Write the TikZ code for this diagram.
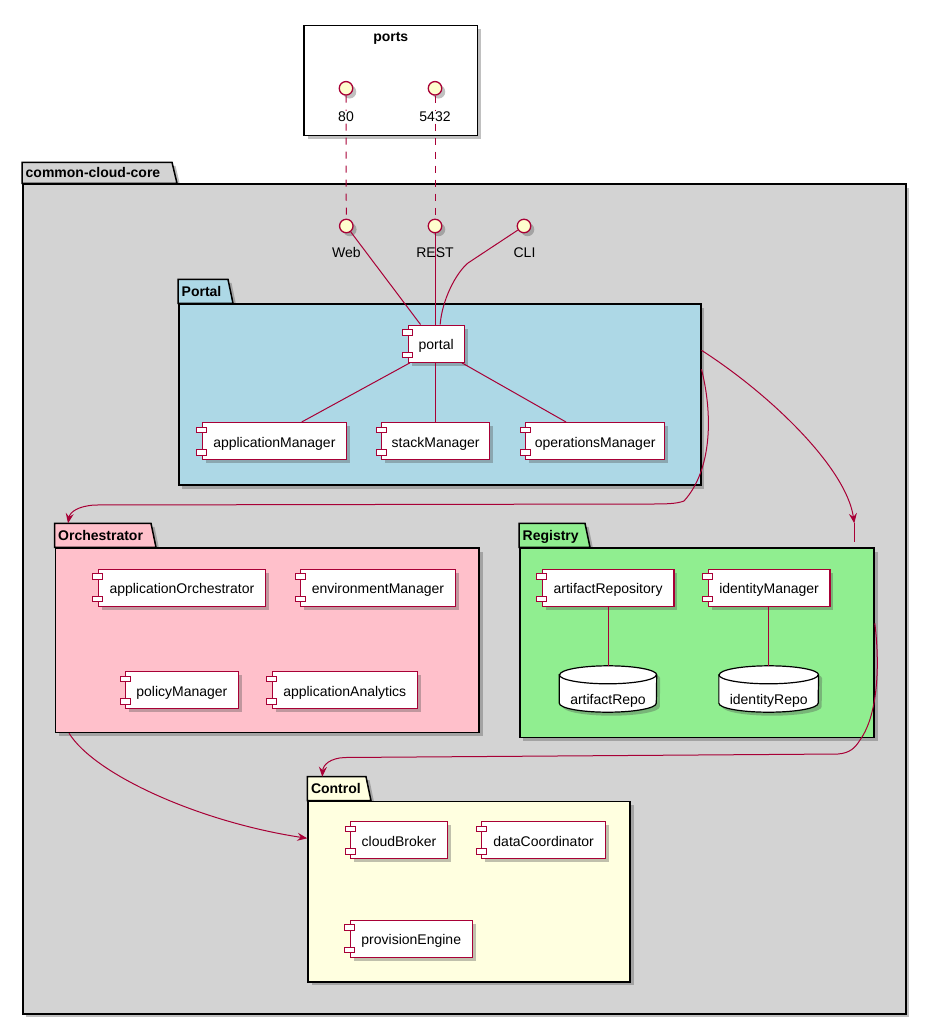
\documentclass[tikz,border=0pt]{standalone}
\usepackage{fontspec}
\setmainfont{Liberation Sans}
\usetikzlibrary{shadows,calc,arrows.meta}
\definecolor{crim}{HTML}{A80036}
\definecolor{ifill}{HTML}{FEFECE}
\definecolor{ccgray}{HTML}{D3D3D3}
\definecolor{pblue}{HTML}{ADD8E6}
\definecolor{ppink}{HTML}{FFC0CB}
\definecolor{pgreen}{HTML}{90EE90}
\definecolor{pyellow}{HTML}{FFFFE0}
\newcommand\umlpkg[9]{%
  \path[pkgtab,fill=#8] (#2,#3) -- ++(0,-#6) -- ++(#7,0) -- ++(5,#6) -- cycle;
  \node[pkgbody,fill=#8,minimum width=#4pt,minimum height=#5pt] (#1) at (#2,#3) {};
  \node[pkglabel] (#1lbl) at ($(#1.north west)+(3.5,-#6/2)$) {#9};
}
\newcommand\umldb[2]{%
  \path[dbline,fill=white,shad] ($(#1.north west)+(0,9)$) -- ($(#1.south west)+(0,-9)$)
     arc[start angle=180,end angle=360,x radius=#2,y radius=9pt]
     -- ($(#1.north east)+(0,9)$)
     arc[start angle=0,end angle=180,x radius=#2,y radius=9pt] -- cycle;
  \draw[dbline] ($(#1.north west)+(0,9)$) arc[start angle=180,end angle=360,x radius=#2,y radius=9pt];
}
\begin{document}
\begin{tikzpicture}[x=1pt,y=-1pt,
  font=\fontsize{14}{16.8}\selectfont,
  shad/.style={drop shadow={shadow xshift=3.5pt,shadow yshift=-3.5pt,fill=black!70,opacity=0.35}},
  pkgbody/.style={draw=black,line width=1.5pt,inner sep=0pt,anchor=north west,shad},
  pkgtab/.style={draw=black,line width=1.5pt,shad},
  pkglabel/.style={font=\fontsize{14}{16.8}\selectfont\bfseries,anchor=west,inner sep=0pt,text height=10pt,text depth=0pt},
  comp/.style={draw=crim,fill=white,line width=1.3pt,minimum height=37pt,inner sep=0pt,anchor=north west,text height=13pt,text depth=1pt,shad},
  compport/.style={draw=crim,fill=white,line width=0.9pt},
  iface/.style={circle,draw=crim,fill=ifill,line width=1.3pt,minimum size=13.5pt,inner sep=0pt,shad},
  ilabel/.style={inner sep=1pt},
  dbn/.style={inner sep=0pt,minimum height=46pt},
  dbline/.style={draw=black,line width=1.2pt},
  dbtext/.style={inner sep=0pt,text height=10pt,text depth=0pt},
  link/.style={draw=crim,line width=1pt},
  dlink/.style={link,dash pattern=on 7pt off 7pt},
  arr/.style={link,-{Stealth[length=10pt,width=8pt,inset=3.5pt]}},
]
\fill[white] (0,0) rectangle (926,1024);
\useasboundingbox (0,0) rectangle (926,1024);

% ports box
\node[draw=black,line width=1.5pt,fill=white,shad,anchor=north west,inner sep=0pt,minimum width=173.4pt,minimum height=110pt] (portsbox) at (303.3,25) {};
\node[pkglabel,anchor=center] (portstitle) at ($(portsbox.north)+(0,11.5)$) {ports};

% packages
\umlpkg{ccc}{22}{183.3}{883}{829.7}{21}{150}{ccgray}{common-cloud-core}
\umlpkg{portalpkg}{178}{303.3}{522}{181}{24}{50}{pblue}{Portal}
\umlpkg{orchpkg}{54.5}{547.3}{423.8}{184.4}{24}{96.5}{ppink}{Orchestrator}
\umlpkg{regpkg}{519}{547.3}{354.3}{189.4}{24}{66}{pgreen}{Registry}
\umlpkg{ctrlpkg}{307.3}{800.7}{322}{180.3}{24}{58.7}{pyellow}{Control}

% interfaces
\node[iface] (p80) at (346,88.3) {};
\node[iface] (p5432) at (435,88.3) {};
\node[iface] (web) at (346.3,226) {};
\node[iface] (rest) at (435,226) {};
\node[iface] (cli) at (524,226) {};
\draw[dlink] (p80) -- (web);
\draw[dlink] (p5432) -- (rest);
\node[ilabel,fill=white] (l80) at (346,116.7) {80};
\node[ilabel,fill=white] (l5432) at (435,116.7) {5432};
\node[ilabel] (lweb) at (346.3,252.7) {Web};
\node[ilabel] (lrest) at (435,252.7) {REST};
\node[ilabel] (lcli) at (524.5,252.7) {CLI};

% components
\node[comp,minimum width=56pt] (portal) at (407.5,324.5) {portal};
\node[comp,minimum width=144pt] (appmgr) at (201.7,422) {applicationManager};
\node[comp,minimum width=108pt] (stackmgr) at (381,422) {stackManager};
\node[comp,minimum width=139pt] (opsmgr) at (525,422) {operationsManager};
\node[comp,minimum width=167.5pt] (apporch) at (97.5,568.5) {applicationOrchestrator};
\node[comp,minimum width=154.5pt] (envmgr) at (300,568.5) {environmentManager};
\node[comp,minimum width=112.5pt] (polmgr) at (125,671) {policyManager};
\node[comp,minimum width=145.2pt] (appana) at (271.5,671) {applicationAnalytics};
\node[comp,minimum width=131.8pt] (artrepo) at (541.5,568.5) {artifactRepository};
\node[comp,minimum width=121.8pt] (idmgr) at (707.5,568.5) {identityManager};
\node[comp,minimum width=96.7pt] (cloudbr) at (350,821) {cloudBroker};
\node[comp,minimum width=124pt] (datacoord) at (481,821) {dataCoordinator};
\node[comp,minimum width=122.2pt] (proveng) at (349.5,919.5) {provisionEngine};
\foreach \n in {portal,appmgr,stackmgr,opsmgr,apporch,envmgr,polmgr,appana,artrepo,idmgr,cloudbr,datacoord,proveng}{
  \draw[compport] ($(\n.north west)+(-5,5)$) rectangle ++(10,5.5);
  \draw[compport] ($(\n.south west)+(-5,-10.5)$) rectangle ++(10,5.5);
}

% databases
\node[dbn,minimum width=97pt] (artdb) at (608,689) {};
\umldb{artdb}{48.5pt}
\node[dbtext] (artdbtxt) at ($(artdb.center)+(0,10.7)$) {artifactRepo};
\node[dbn,minimum width=99.3pt] (iddb) at (768.7,689) {};
\umldb{iddb}{49.65pt}
\node[dbtext] (iddbtxt) at ($(iddb.center)+(0,10.7)$) {identityRepo};

% links
\draw[link] (web) -- ($(portal.north west)+(13,0)$);
\draw[link] (rest) -- (rest |- portal.north);
\draw[link] (cli) -- ($(cli)+(-56,37)$) .. controls +(-12,10) and +(2,-25) .. ($(portal.north)+(4,0)$);
\draw[link] ($(portal.south west)+(2.5,0)$) -- ($(appmgr.north west)+(100,0)$);
\draw[link] (stackmgr.north |- portal.south) -- (stackmgr.north);
\draw[link] ($(portal.south east)+(-3,0)$) -- ($(opsmgr.north west)+(41,0)$);
\draw[link] (artdb.north |- artrepo.south) -- (artdb.north);
\draw[link] (iddb.north |- idmgr.south) -- (iddb.north);

% arrows
\draw[arr] ($(portalpkg.north east)+(0,47)$) .. controls +(70,45) and +(-8,-55) .. ($(regpkg.north east)+(-20.5,-24)$);
\draw[link] ($(regpkg.north east)+(-20.5,-24)$) -- ($(regpkg.north east)+(-20.5,-5)$);
\draw[arr] ($(portalpkg.north east)+(0,66)$) .. controls (713,415) and (712,470) .. (684,501)
   .. controls (676,504) and (665,504) .. (650,504) -- (95,505)
   .. controls (78,506) and (70,512) .. ($(orchpkg.north west)+(13.5,-24)$);
\draw[arr] ($(regpkg.north east)+(0,76)$) .. controls (880,665) and (878,715) .. (860,740)
   .. controls (855,748) and (850,753) .. (838,754) -- (345,757.5)
   .. controls (330,758) and (323,765) .. ($(ctrlpkg.north west)+(15,-24)$);
\draw[arr] ($(orchpkg.south west)+(14.5,0)$) .. controls (95,775) and (200,822) .. ($(ctrlpkg.north west)+(0,37.6)$);
\end{tikzpicture}
\end{document}
